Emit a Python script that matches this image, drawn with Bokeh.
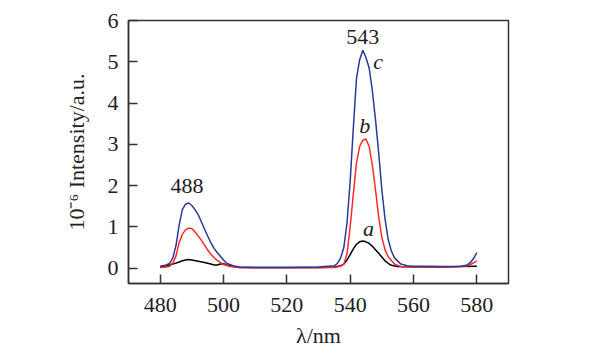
from bokeh.plotting import figure
from bokeh.models import FixedTicker, Label, Range1d
from bokeh.embed import file_html
from bokeh.resources import INLINE

# ---- data ----
wl_c = [480, 482, 483, 484, 485, 486, 487, 488, 489, 490, 491, 492, 494, 495, 496, 497, 498, 500, 501, 503, 505,
        510, 520, 530, 535, 536, 537, 538, 539, 540, 541, 542, 543, 544, 545, 546, 547, 548, 549, 550, 551, 552,
        553, 554, 556, 558, 560, 565, 570, 575, 577, 578, 579, 580]
int_c = [0.05, 0.08, 0.12, 0.25, 0.55, 1.05, 1.42, 1.55, 1.58, 1.52, 1.42, 1.3, 0.95, 0.78, 0.62, 0.48, 0.38, 0.2, 0.12, 0.06, 0.03,
         0.02, 0.02, 0.03, 0.06, 0.12, 0.25, 0.5, 1.1, 2.1, 3.4, 4.6, 5.05, 5.28, 5.1, 4.85, 4.3, 3.6, 2.8, 1.9, 1.2, 0.7,
         0.42, 0.25, 0.1, 0.06, 0.05, 0.05, 0.04, 0.05, 0.08, 0.14, 0.24, 0.38]

wl_b = [480, 482, 483, 484, 485, 486, 487, 488, 489, 490, 491, 492, 493, 494, 495, 496, 497, 498, 499, 500, 502, 505,
        510, 520, 530, 535, 537, 538, 539, 540, 541, 542, 543, 544, 545, 546, 547, 548, 549, 550, 551, 552,
        554, 556, 560, 565, 570, 575, 577, 578, 579, 580]
int_b = [0.02, 0.03, 0.05, 0.12, 0.3, 0.62, 0.82, 0.93, 0.97, 0.96, 0.88, 0.78, 0.68, 0.56, 0.44, 0.34, 0.26, 0.19, 0.14, 0.09, 0.04, 0.02,
         0.01, 0.01, 0.01, 0.02, 0.05, 0.1, 0.35, 1.0, 1.8, 2.55, 2.95, 3.1, 3.13, 2.95, 2.5, 1.9, 1.25, 0.75, 0.45, 0.28,
         0.1, 0.04, 0.03, 0.03, 0.03, 0.04, 0.06, 0.09, 0.13, 0.18]

wl_a = [480, 482, 484, 486, 487, 488, 489, 490, 492, 494, 496, 497, 498, 499, 500, 501, 503, 505,
        510, 520, 530, 535, 537, 538, 539, 540, 541, 542, 543, 544, 545, 546, 547, 548, 549, 550, 551, 552, 553, 555,
        560, 565, 570, 575, 580]
int_a = [0.03, 0.06, 0.1, 0.15, 0.18, 0.2, 0.21, 0.2, 0.17, 0.14, 0.1, 0.08, 0.08, 0.1, 0.11, 0.08, 0.04, 0.02,
         0.02, 0.02, 0.02, 0.03, 0.06, 0.1, 0.2, 0.33, 0.47, 0.58, 0.64, 0.66, 0.64, 0.6, 0.53, 0.45, 0.36, 0.27, 0.18, 0.12, 0.07, 0.04,
         0.03, 0.03, 0.03, 0.04, 0.05]

x_ticks = [480, 500, 520, 540, 560, 580]
y_ticks = [0, 1, 2, 3, 4, 5, 6]

FONT = "Liberation Serif"
TXT = "#222222"

p = figure(width=607, height=353, output_backend="svg", toolbar_location=None,
           x_range=Range1d(470, 590), y_range=Range1d(-0.37, 6.0),
           min_border_left=128, min_border_right=99, min_border_top=20, min_border_bottom=70)

p.background_fill_color = "white"
p.border_fill_color = "white"
p.grid.visible = False
p.outline_line_color = "#333333"
p.outline_line_width = 1.5

p.line(wl_a, int_a, line_color="black", line_width=1.5)
p.line(wl_b, int_b, line_color="#ff2a2a", line_width=1.5)
p.line(wl_c, int_c, line_color="#2a3a9a", line_width=1.5)

for ax in (p.xaxis[0], p.yaxis[0]):
    ax.major_tick_in = 9
    ax.major_tick_out = 0
    ax.minor_tick_in = 0
    ax.minor_tick_out = 0
    ax.axis_line_color = "#333333"
    ax.axis_line_width = 1.5
    ax.major_tick_line_color = "#333333"
    ax.major_tick_line_width = 1.5
    ax.major_label_text_font = FONT
    ax.major_label_text_font_size = "22px"
    ax.major_label_text_color = TXT
    ax.axis_label_text_font = FONT
    ax.axis_label_text_font_size = "22px"
    ax.axis_label_text_font_style = "normal"
    ax.axis_label_text_color = TXT

p.xaxis.ticker = FixedTicker(ticks=x_ticks)
p.yaxis.ticker = FixedTicker(ticks=y_ticks)
p.xaxis.major_label_standoff = 14
p.yaxis.major_label_standoff = 10
p.xaxis.axis_label = "λ/nm"
p.xaxis.axis_label_standoff = 8
p.yaxis.axis_label = "10⁻⁶ Intensity/a.u."
p.yaxis.axis_label_standoff = 16

def add_label(x, y, t, style="normal", align="center", size="22px"):
    p.add_layout(Label(x=x, y=y, text=t, text_font=FONT, text_font_size=size,
                       text_font_style=style, text_color=TXT,
                       text_align=align, text_baseline="middle"))

add_label(488.5, 2.0, "488")
add_label(544.0, 5.6, "543")
add_label(548.8, 5.0, "c", "italic")
add_label(544.6, 3.45, "b", "italic")
add_label(545.8, 0.97, "a", "italic")

open("out.html", "w").write(file_html(p, INLINE))
